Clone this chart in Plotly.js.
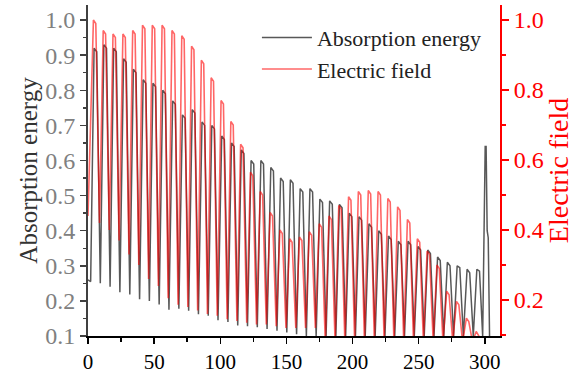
<!DOCTYPE html>
<html>
<head>
<meta charset="utf-8">
<script src="https://cdn.plot.ly/plotly-3.0.1.min.js"></script>
<style>html,body{margin:0;padding:0;background:#fff;}#chart{width:574px;height:376px;}</style>
</head>
<body>
<div id="chart"></div>
<script>
// Absorption energy (left axis): each pulse = top-left, top-right, trough
const grayX = [0, 2,
  4.6, 6.6, 9.3,   12.0, 14.0, 16.7,   19.4, 21.4, 24.1,   26.9, 28.9, 31.6,
  34.3, 36.3, 39.0,   41.7, 43.7, 46.4,   49.1, 51.1, 53.8,   56.5, 58.5, 61.2,
  64.0, 66.0, 68.7,   71.4, 73.4, 76.1,   78.8, 80.8, 83.5,   86.2, 88.2, 90.9,
  93.6, 95.6, 98.3,   101.1, 103.1, 105.8,   108.5, 110.5, 113.2,   115.9, 117.9, 120.6,
  123.3, 125.3, 128.0,   130.7, 132.7, 135.4,   138.2, 140.2, 142.9,   145.6, 147.6, 150.3,
  153.0, 155.0, 157.7,   160.4, 162.4, 165.1,   167.8, 169.8, 172.5,   175.3, 177.3, 180.0,
  182.7, 184.7, 187.4,   190.1, 192.1, 194.8,   197.5, 199.5, 202.2,   204.9, 206.9, 209.6,
  212.4, 214.4, 217.1,   219.8, 221.8, 224.5,   227.2, 229.2, 231.9,   234.6, 236.6, 239.3,
  242.0, 244.0, 246.7,   249.5, 251.5, 254.2,   256.9, 258.9, 261.6,   264.3, 266.3, 269.0,
  271.7, 273.7, 276.4,   279.1, 281.1, 283.8,   286.6, 288.6, 291.3,   294.0, 296.0, 298.4,
  300.3, 301.0, 301.8, 302.6, 303.6];
const grayY = [0.26, 0.255,
  0.92, 0.91, 0.25,   0.93, 0.92, 0.24,   0.92, 0.91, 0.225,   0.89, 0.88, 0.218,
  0.86, 0.85, 0.205,   0.83, 0.82, 0.20,   0.82, 0.81, 0.19,   0.80, 0.79, 0.175,
  0.77, 0.76, 0.178,   0.73, 0.72, 0.172,   0.745, 0.735, 0.162,   0.71, 0.70, 0.158,
  0.70, 0.69, 0.145,   0.67, 0.66, 0.14,   0.65, 0.64, 0.13,   0.63, 0.62, 0.128,
  0.60, 0.59, 0.125,   0.60, 0.59, 0.12,   0.58, 0.57, 0.115,   0.55, 0.54, 0.11,
  0.545, 0.535, 0.105,   0.52, 0.51, 0.10,   0.52, 0.51, 0.10,   0.49, 0.48, 0.10,
  0.485, 0.475, 0.10,   0.475, 0.465, 0.10,   0.45, 0.44, 0.10,   0.44, 0.43, 0.10,
  0.42, 0.41, 0.10,   0.40, 0.39, 0.10,   0.385, 0.375, 0.10,   0.37, 0.36, 0.10,
  0.37, 0.36, 0.10,   0.355, 0.345, 0.10,   0.345, 0.335, 0.10,   0.325, 0.315, 0.10,
  0.31, 0.30, 0.10,   0.30, 0.295, 0.10,   0.29, 0.28, 0.10,   0.29, 0.285, 0.10,
  0.64, 0.64, 0.40, 0.38, 0.10];

// Electric field (right axis)
const redX = [0,
  4.1, 5.9, 8.7,   11.5, 13.3, 16.1,   18.9, 20.7, 23.5,   26.4, 28.2, 31.0,
  33.8, 35.6, 38.4,   41.2, 43.0, 45.8,   48.6, 50.4, 53.2,   56.0, 57.8, 60.6,
  63.5, 65.3, 68.1,   70.9, 72.7, 75.5,   78.3, 80.1, 82.9,   85.7, 87.5, 90.3,
  93.1, 94.9, 97.7,   100.6, 102.4, 105.2,   108.0, 109.8, 112.6,   115.4, 117.2, 120.0,
  122.8, 124.6, 127.4,   130.2, 132.0, 134.8,   137.7, 139.5, 142.3,   145.1, 146.9, 149.7,
  152.5, 154.3, 157.1,   159.9, 161.7, 164.5,   167.3, 169.1, 171.9,   174.8, 176.6, 179.4,
  182.2, 184.0, 186.8,   189.6, 191.4, 194.2,   197.0, 198.8, 201.6,   204.4, 206.2, 209.0,
  211.9, 213.7, 216.5,   219.3, 221.1, 223.9,   226.7, 228.5, 231.3,   234.1, 235.9, 238.7,
  241.5, 243.3, 246.1,   249.0, 250.8, 253.6,   256.4, 258.2, 261.0,   263.8, 265.6, 268.4,
  271.2, 273.0, 275.8,   278.6, 280.4, 283.2,   286.1, 287.9, 290.7,   293.5, 295.3, 298.1,
  300.9, 302.7, 305.0];
const redY = [0.44,
  1.0, 0.99, 0.42,   0.97, 0.96, 0.40,   0.96, 0.95, 0.37,   0.96, 0.95, 0.33,
  0.97, 0.96, 0.30,   0.985, 0.975, 0.26,   0.985, 0.975, 0.24,   0.985, 0.975, 0.205,
  0.97, 0.96, 0.186,   0.955, 0.945, 0.18,   0.925, 0.915, 0.17,   0.885, 0.875, 0.16,
  0.835, 0.825, 0.155,   0.77, 0.76, 0.145,   0.71, 0.70, 0.14,   0.645, 0.635, 0.135,
  0.565, 0.555, 0.13,   0.51, 0.50, 0.13,   0.45, 0.44, 0.125,   0.40, 0.39, 0.12,
  0.375, 0.365, 0.12,   0.38, 0.37, 0.12,   0.395, 0.385, 0.12,   0.418, 0.408, 0.08,
  0.44, 0.43, 0.08,   0.47, 0.46, 0.08,   0.495, 0.485, 0.08,   0.51, 0.50, 0.08,
  0.513, 0.503, 0.08,   0.51, 0.50, 0.08,   0.49, 0.48, 0.08,   0.466, 0.456, 0.08,
  0.43, 0.42, 0.08,   0.375, 0.365, 0.08,   0.34, 0.33, 0.08,   0.30, 0.29, 0.08,
  0.225, 0.215, 0.08,   0.196, 0.186, 0.08,   0.148, 0.138, 0.08,   0.11, 0.10, 0.08,
  0.09, 0.09, 0.08];

const xTicks = [0, 50, 100, 150, 200, 250, 300];
const leftTicks = [0.1, 0.2, 0.3, 0.4, 0.5, 0.6, 0.7, 0.8, 0.9, 1.0];
const rightTicks = [0.2, 0.4, 0.6, 0.8, 1.0];
const seriesNames = ['Absorption energy', 'Electric field'];

const SERIF = 'Liberation Serif, Times New Roman, serif';

const traces = [
  {x: grayX, y: grayY, name: seriesNames[0], type: 'scatter', mode: 'lines',
   line: {color: 'rgba(70,70,70,0.9)', width: 1.5}, xaxis: 'x', yaxis: 'y'},
  {x: redX, y: redY, name: seriesNames[1], type: 'scatter', mode: 'lines',
   line: {color: 'rgba(255,0,0,0.6)', width: 1.6}, xaxis: 'x', yaxis: 'y2'}
];

const layout = {
  width: 574, height: 376,
  margin: {l: 88, r: 74, t: 5, b: 40},
  paper_bgcolor: '#fff', plot_bgcolor: '#fff',
  font: {family: SERIF, color: '#000'},
  showlegend: true,
  legend: {x: 0.41, y: 0.965, xanchor: 'left', yanchor: 'top', bgcolor: 'rgba(0,0,0,0)',
           font: {family: SERIF, size: 22, color: '#222'}, itemwidth: 50, tracegroupgap: 0},
  xaxis: {range: [0, 311.5], tickvals: xTicks, ticks: 'outside', ticklen: 6, tickwidth: 1.5,
          tickcolor: '#000', showline: true, linecolor: '#000', linewidth: 2,
          showgrid: false, zeroline: false,
          minor: {ticks: 'outside', dtick: 25, tick0: 0, ticklen: 4, tickwidth: 1.5, tickcolor: '#000', showgrid: false},
          tickfont: {family: SERIF, size: 21, color: '#000'}},
  xaxis2: {overlaying: 'x', side: 'top', anchor: 'y', range: [0, 311.5], tickvals: xTicks,
           ticks: 'inside', ticklen: 5, tickwidth: 1.5, tickcolor: '#000',
           minor: {ticks: 'inside', dtick: 25, tick0: 0, ticklen: 4, tickwidth: 1.5, tickcolor: '#000', showgrid: false},
           showticklabels: false, showline: true, linecolor: '#000', linewidth: 2,
           showgrid: false, zeroline: false},
  yaxis: {range: [0.1, 1.043], tickvals: leftTicks, tickformat: '.1f', ticks: 'outside',
          ticklen: 6, tickwidth: 1.5, tickcolor: '#404040', showline: true, linecolor: '#404040', linewidth: 2,
          showgrid: false, zeroline: false,
          minor: {ticks: 'outside', dtick: 0.05, tick0: 0.1, ticklen: 3, tickwidth: 1.5, tickcolor: '#404040', showgrid: false},
          tickfont: {family: SERIF, size: 24, color: '#808080'},
          title: {text: 'Absorption energy', font: {family: SERIF, size: 25, color: '#333'}, standoff: 0}},
  yaxis2: {overlaying: 'y', side: 'right', anchor: 'x', range: [0.097, 1.043], tickvals: rightTicks,
           tickformat: '.1f', ticks: 'outside', ticklen: 7, tickwidth: 1.5, tickcolor: '#ff0000',
           showline: true, linecolor: '#ff0000', linewidth: 2, showgrid: false, zeroline: false,
           minor: {ticks: 'outside', dtick: 0.1, tick0: 0.1, ticklen: 4, tickwidth: 1.5, tickcolor: '#ff0000', showgrid: false},
           tickfont: {family: SERIF, size: 24, color: '#ff0000'},
           title: {text: 'Electric field', font: {family: SERIF, size: 28, color: '#ff0000'}, standoff: 12}}
};

Plotly.newPlot('chart', traces, layout, {displayModeBar: false, staticPlot: true});
</script>
</body>
</html>
